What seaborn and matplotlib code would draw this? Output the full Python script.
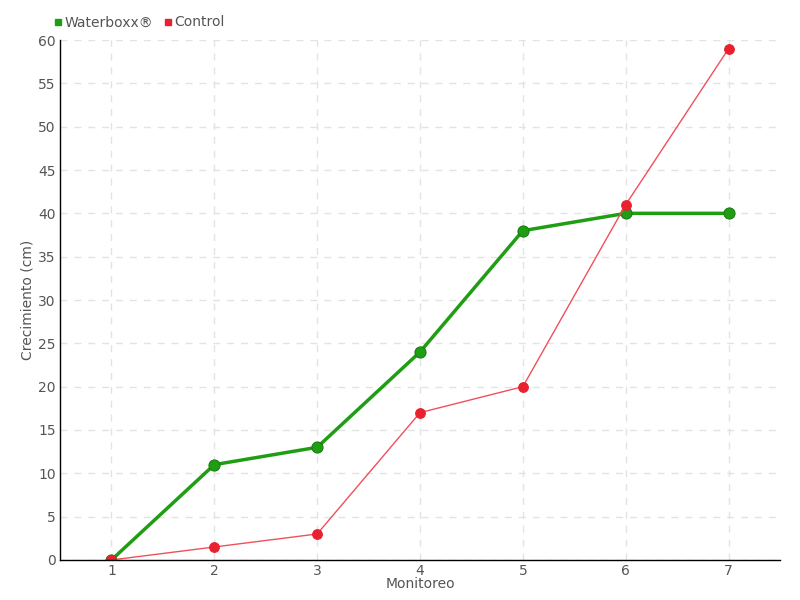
import pandas as pd
import seaborn as sns
import matplotlib.pyplot as plt

# ---- Data ----
monitoreo = [1, 2, 3, 4, 5, 6, 7]
waterboxx = [0, 11, 13, 24, 38, 40, 40]
control = [0, 1.5, 3, 17, 20, 41, 59]

df = pd.DataFrame({
    'Monitoreo': monitoreo * 2,
    'Crecimiento': waterboxx + control,
    'Serie': ['Waterboxx®'] * 7 + ['Control'] * 7,
})

sns.set_style('white')
plt.rcParams['font.family'] = ['DejaVu Sans']

fig = plt.figure(figsize=(8, 6), dpi=100)
ax = fig.add_axes([0.075, 0.0667, 0.9, 0.8666])

green = '#1f9e14'
red = '#e8202f'

sns.lineplot(data=df[df['Serie'] == 'Waterboxx®'], x='Monitoreo', y='Crecimiento',
             color=green, linewidth=2.5, marker='o', markersize=8,
             markeredgecolor='#1a7a12', ax=ax, legend=False)
sns.lineplot(data=df[df['Serie'] == 'Control'], x='Monitoreo', y='Crecimiento',
             color='#f0505a', linewidth=1, marker='o', markersize=7,
             markerfacecolor=red, markeredgecolor=red, ax=ax, legend=False)

ax.set_xlim(0.5, 7.5)
ax.set_ylim(0, 60)
ax.set_xticks(monitoreo)
ax.set_yticks(range(0, 61, 5))
ax.grid(True, color='#e3e3e3', linestyle=(0, (5, 5)), linewidth=1)
ax.set_axisbelow(True)
for s in ['top', 'right']:
    ax.spines[s].set_visible(False)
for s in ['left', 'bottom']:
    ax.spines[s].set_color('black')
    ax.spines[s].set_linewidth(1)
ax.tick_params(axis='both', colors='#555555', labelsize=10, length=4, direction='inout', pad=1)
ax.tick_params(axis='both', color='black')

ax.set_xlabel('Monitoreo', color='#555555', fontsize=10, labelpad=-1)
ax.set_ylabel('Crecimiento (cm)', color='#555555', fontsize=10, labelpad=3)

# ---- Legend ----
handles = [plt.Line2D([], [], marker='s', linestyle='', color=green, markersize=5),
           plt.Line2D([], [], marker='s', linestyle='', color=red, markersize=5)]
fig.legend(handles, ['Waterboxx®', 'Control'], loc='upper left',
           bbox_to_anchor=(0.05, 0.995), ncol=2, frameon=False, handletextpad=0.1,
           columnspacing=0.6, fontsize=10, labelcolor='#555555', handlelength=0.8)

plt.savefig('out.png')
